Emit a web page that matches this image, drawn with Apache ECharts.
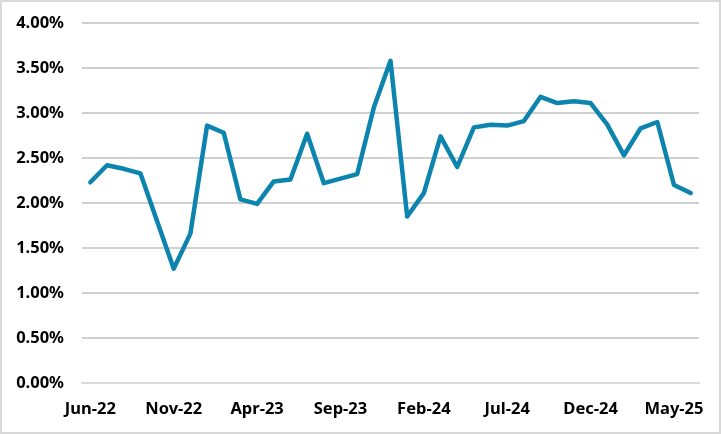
<!DOCTYPE html>
<html>
<head>
<meta charset="utf-8">
<script src="https://cdn.jsdelivr.net/npm/echarts@6/dist/echarts.min.js"></script>
<style>
html,body{margin:0;padding:0;background:#fff;}
#c{width:721px;height:434px;box-sizing:border-box;border:2px solid #d9d9d9;}
</style>
</head>
<body>
<div id="c"></div>
<script>
const categories = ['Jun-22','Jul-22','Aug-22','Sep-22','Oct-22','Nov-22','Dec-22','Jan-23','Feb-23','Mar-23','Apr-23','May-23','Jun-23','Jul-23','Aug-23','Sep-23','Oct-23','Nov-23','Dec-23','Jan-24','Feb-24','Mar-24','Apr-24','May-24','Jun-24','Jul-24','Aug-24','Sep-24','Oct-24','Nov-24','Dec-24','Jan-25','Feb-25','Mar-25','Apr-25','May-25','Jun-25'];
const values = [2.23,2.42,2.38,2.33,1.80,1.27,1.66,2.86,2.78,2.04,1.99,2.24,2.26,2.77,2.22,2.27,2.32,3.06,3.58,1.85,2.11,2.74,2.40,2.84,2.87,2.86,2.91,3.18,3.11,3.13,3.11,2.87,2.53,2.83,2.90,2.20,2.11];
const yTicks = [0,0.5,1,1.5,2,2.5,3,3.5,4];

const chart = echarts.init(document.getElementById('c'));
chart.setOption({
  animation:false,
  grid:{left:80,right:20,top:21,bottom:49,containLabel:false},
  xAxis:{
    type:'category',
    data:categories,
    boundaryGap:true,
    axisLine:{lineStyle:{color:'#d9d9d9',width:2}},
    axisTick:{interval:4,length:6,lineStyle:{color:'#d9d9d9',width:2}},
    axisLabel:{interval:4,margin:18,color:'#000',fontFamily:'Noto Sans',fontWeight:'bold',fontSize:16.5}
  },
  yAxis:{
    type:'value',
    min:yTicks[0],max:yTicks[yTicks.length-1],interval:0.5,
    axisLine:{show:false},axisTick:{show:false},
    splitLine:{lineStyle:{color:'#d0d0d0',width:2}},
    axisLabel:{margin:18,color:'#000',fontFamily:'Noto Sans',fontWeight:'bold',fontSize:16.5,
      formatter:v=>v.toFixed(2)+'%'}
  },
  series:[{
    type:'line',
    data:values,
    symbol:'none',
    lineStyle:{color:'#0c84ae',width:4.5,join:'round',cap:'round'}
  }]
});
</script>
</body>
</html>
